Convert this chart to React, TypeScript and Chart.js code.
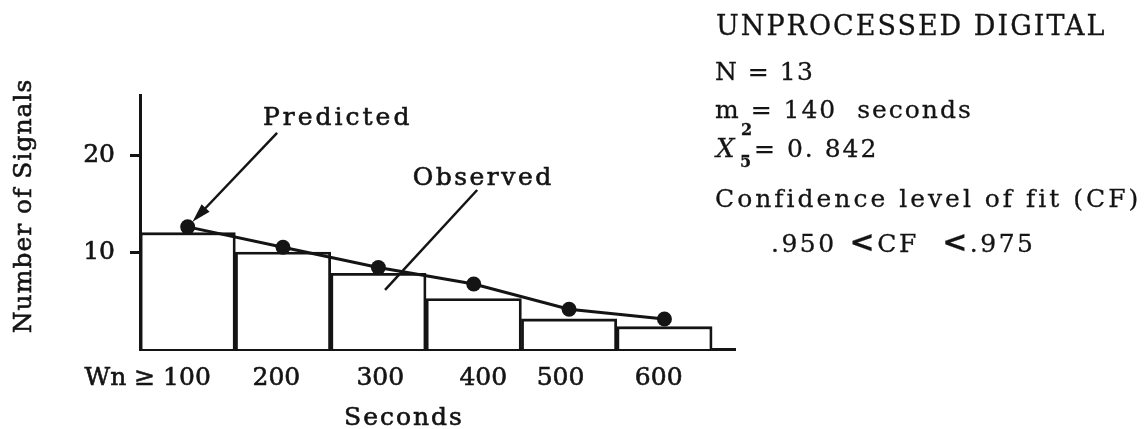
import React, { useEffect, useRef } from "react";
import { Chart, registerables } from "chart.js";

Chart.register(...registerables);

// ---- data ----
const binStarts = [100, 200, 300, 400, 500, 600];
const binWidth = 100;
const observed = [12.0, 10.0, 7.8, 5.2, 3.1, 2.3];
const predicted = [12.6, 10.5, 8.4, 6.7, 4.1, 3.1];
const xTickLabels = ["Wn ≥ 100", "200", "300", "400", "500", "600"];
const xTickPositions = [108, 243, 352, 460, 541, 644];
const yTickValues = [10, 20];

const X_MIN = 100;
const X_MAX = 724;
const Y_MAX = 26.2;

const INK = "#141414";
const FONT = "'DejaVu Serif', serif";
const STROKE = 0.6;

// annotation anchors (data units)
const predictedLabelAt = { x: 229, y: 23.1 };
const predictedArrowFrom = { x: 243.8, y: 22.3 };
const observedLabelAt = { x: 386, y: 16.9 };
const observedLineFrom = { x: 453.6, y: 16.4 };
const observedLineTo = { x: 357, y: 6.1 };

function heavyText(ctx: CanvasRenderingContext2D, text: string, px: number, py: number) {
  ctx.fillText(text, px, py);
  ctx.lineWidth = STROKE;
  ctx.strokeText(text, px, py);
}

const annotationPlugin = {
  id: "annotations",
  afterDraw(chart: any) {
    const { ctx, chartArea } = chart;
    const x = chart.scales.x;
    const y = chart.scales.y;
    ctx.save();
    ctx.fillStyle = INK;
    ctx.strokeStyle = INK;
    ctx.font = `25px ${FONT}`;

    // y axis title
    ctx.save();
    ctx.translate(31, chartArea.top + 111);
    ctx.rotate(-Math.PI / 2);
    ctx.textAlign = "center";
    ctx.textBaseline = "alphabetic";
    (ctx as any).letterSpacing = "1px";
    heavyText(ctx, "Number of Signals", 0, 0);
    ctx.restore();

    // x axis title
    ctx.save();
    ctx.textAlign = "center";
    ctx.textBaseline = "alphabetic";
    (ctx as any).letterSpacing = "2px";
    heavyText(ctx, "Seconds", chartArea.left + 264, chartArea.bottom + 76);
    ctx.restore();

    // Predicted label + arrow
    ctx.save();
    ctx.textAlign = "left";
    ctx.textBaseline = "alphabetic";
    (ctx as any).letterSpacing = "3px";
    heavyText(ctx, "Predicted", x.getPixelForValue(predictedLabelAt.x), y.getPixelForValue(predictedLabelAt.y));
    ctx.restore();

    const p0x = x.getPixelForValue(binStarts[0] + binWidth / 2);
    const p0y = y.getPixelForValue(predicted[0]);
    const sx = x.getPixelForValue(predictedArrowFrom.x);
    const sy = y.getPixelForValue(predictedArrowFrom.y);
    const dx = p0x - sx;
    const dy = p0y - sy;
    const len = Math.hypot(dx, dy);
    const ux = dx / len;
    const uy = dy / len;
    const tipX = p0x - ux * 7;
    const tipY = p0y - uy * 7;
    const headLen = 19;
    const headW = 5.5;
    ctx.lineWidth = 2.5;
    ctx.beginPath();
    ctx.moveTo(sx, sy);
    ctx.lineTo(tipX - ux * headLen * 0.8, tipY - uy * headLen * 0.8);
    ctx.stroke();
    ctx.beginPath();
    ctx.moveTo(tipX, tipY);
    ctx.lineTo(tipX - ux * headLen - uy * headW, tipY - uy * headLen + ux * headW);
    ctx.lineTo(tipX - ux * headLen + uy * headW, tipY - uy * headLen - ux * headW);
    ctx.closePath();
    ctx.fill();

    // Observed label + pointer
    ctx.save();
    ctx.textAlign = "left";
    ctx.textBaseline = "alphabetic";
    (ctx as any).letterSpacing = "2.5px";
    heavyText(ctx, "Observed", x.getPixelForValue(observedLabelAt.x), y.getPixelForValue(observedLabelAt.y));
    ctx.restore();

    ctx.lineWidth = 2.5;
    ctx.beginPath();
    ctx.moveTo(x.getPixelForValue(observedLineFrom.x), y.getPixelForValue(observedLineFrom.y));
    ctx.lineTo(x.getPixelForValue(observedLineTo.x), y.getPixelForValue(observedLineTo.y));
    ctx.stroke();

    ctx.restore();
  },
};

function T(props: { left: number; base: number; size?: number; ls?: number; children: any; style?: any }) {
  const size = props.size ?? 25;
  return (
    <div
      style={{
        position: "absolute",
        left: props.left,
        top: props.base - 0.928 * size,
        fontFamily: FONT,
        fontSize: size,
        lineHeight: "normal",
        letterSpacing: (props.ls ?? 0) + "px",
        color: INK,
        whiteSpace: "pre",
        WebkitTextStroke: `${STROKE / 2}px ${INK}`,
        ...(props.style || {}),
      }}
    >
      {props.children}
    </div>
  );
}

export default function App() {
  const canvasRef = useRef<HTMLCanvasElement | null>(null);

  useEffect(() => {
    const canvas = canvasRef.current;
    if (!canvas) return;
    const binEdges = [...binStarts, binStarts[binStarts.length - 1] + binWidth];
    const tickFont = { family: FONT, size: 25 };
    const chart = new Chart(canvas, {
      type: "bar",
      data: {
        datasets: [
          {
            type: "line",
            label: "Predicted",
            data: predicted.map((v, i) => ({ x: binStarts[i] + binWidth / 2, y: v })),
            borderColor: INK,
            borderWidth: 3,
            pointRadius: 7.5,
            pointBackgroundColor: INK,
            pointBorderWidth: 0,
            tension: 0,
            order: 0,
            xAxisID: "x",
            yAxisID: "y",
          } as any,
          {
            type: "bar",
            label: "Observed",
            data: observed.map((v, i) => ({ x: binStarts[i] + binWidth / 2, y: v })),
            backgroundColor: "#ffffff",
            borderColor: INK,
            borderWidth: 2.8,
            barPercentage: 1,
            categoryPercentage: 1,
            order: 1,
            xAxisID: "x",
            yAxisID: "y",
          } as any,
        ],
      },
      options: {
        animation: false,
        responsive: false,
        devicePixelRatio: 1,
        layout: { padding: { left: 0, top: 95, right: 409, bottom: 0 } },
        plugins: { legend: { display: false }, tooltip: { enabled: false } },
        scales: {
          x: {
            type: "linear",
            position: "bottom",
            min: X_MIN,
            max: X_MAX,
            offset: false,
            weight: 0,
            grid: { display: false, drawTicks: false, offset: false },
            border: { display: true, color: INK, width: 3 },
            ticks: { display: false },
            afterBuildTicks: (s: any) => {
              s.ticks = binEdges.map((v) => ({ value: v }));
            },
            afterFit: (s: any) => {
              s.height = 0;
            },
          },
          x2: {
            type: "linear",
            position: "bottom",
            min: X_MIN,
            max: X_MAX,
            offset: false,
            weight: 1,
            grid: { display: false, drawTicks: false },
            border: { display: false },
            ticks: {
              font: tickFont,
              color: INK,
              padding: 14,
              maxRotation: 0,
              autoSkip: false,
              textStrokeWidth: STROKE,
              textStrokeColor: INK,
              callback: (_v: any, i: number) => xTickLabels[i],
            },
            afterBuildTicks: (s: any) => {
              s.ticks = xTickPositions.map((v) => ({ value: v }));
            },
            afterFit: (s: any) => {
              s.height = 80;
            },
          },
          y: {
            type: "linear",
            position: "left",
            min: 0,
            max: Y_MAX,
            grid: { drawOnChartArea: false, drawTicks: true, tickLength: 10, color: INK, lineWidth: 3 },
            border: { display: true, color: INK, width: 3 },
            ticks: { font: tickFont, color: INK, padding: 15, textStrokeWidth: STROKE, textStrokeColor: INK },
            afterBuildTicks: (s: any) => {
              s.ticks = yTickValues.map((v) => ({ value: v }));
            },
            afterFit: (s: any) => {
              s.width = 140;
            },
          },
        },
      } as any,
      plugins: [annotationPlugin],
    });
    return () => chart.destroy();
  }, []);

  return (
    <div style={{ position: "absolute", left: 0, top: 0, width: 1144, height: 429, background: "#fff", overflow: "hidden" }}>
      <canvas ref={canvasRef} width={1144} height={429} style={{ display: "block", position: "absolute", left: 0, top: 0 }} />
      <T left={716} base={35} size={27} ls={2}>UNPROCESSED DIGITAL</T>
      <T left={715} base={80} ls={1.5}>N = 13</T>
      <T left={715} base={118} ls={2}>m = 140  seconds</T>
      <T left={716} base={157} size={26} style={{ fontStyle: "italic" }}>Χ</T>
      <T left={741} base={135} size={16} style={{ fontWeight: "bold" }}>2</T>
      <T left={740} base={167} size={16} style={{ fontWeight: "bold" }}>5</T>
      <T left={754} base={157} ls={2}>= 0. 842</T>
      <T left={715} base={207} ls={3}>Confidence level of fit (CF)</T>
      <T left={771} base={247} ls={2.5}>
        .950<b style={{ fontSize: 30 }}> &lt;</b>CF <b style={{ fontSize: 30 }}> &lt;</b>.975
      </T>
    </div>
  );
}
